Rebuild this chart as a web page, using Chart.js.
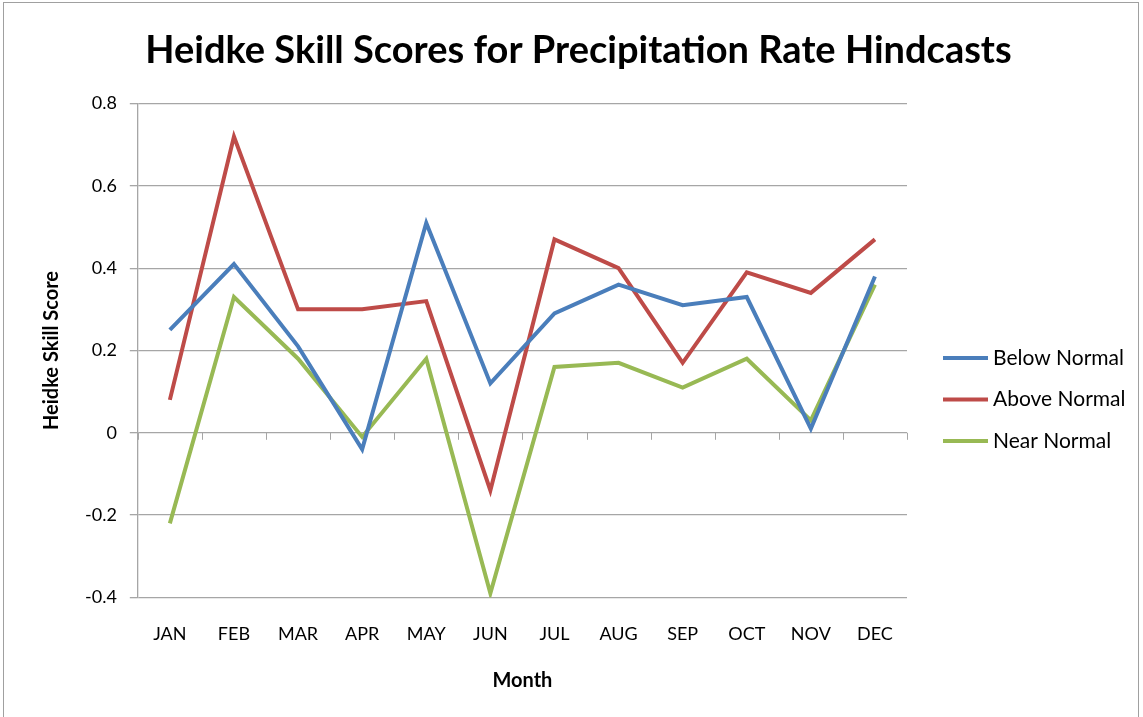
<!DOCTYPE html>
<html>
<head>
<meta charset="utf-8">
<title>Heidke Skill Scores</title>
<script src="https://cdn.jsdelivr.net/npm/chart.js@4"></script>
<style>
    html, body { margin: 0; padding: 0; background: #fff; }
    .frame {
        position: absolute; left: 3px; top: 2px;
        width: 1136px; height: 716px;
        border: 1px solid #a0a0a0; border-bottom: none;
        box-sizing: border-box;
    }
    .wrap { position: absolute; left: 0; top: 0; width: 1143px; height: 717px; }
</style>
</head>
<body>
<div class="frame"></div>
<div class="wrap"><canvas id="hssChart"></canvas></div>
<script>
// ─── data ───
const months = ['JAN', 'FEB', 'MAR', 'APR', 'MAY', 'JUN', 'JUL', 'AUG', 'SEP', 'OCT', 'NOV', 'DEC'];
const belowNormal = [0.25, 0.41, 0.21, -0.04, 0.51, 0.12, 0.29, 0.36, 0.31, 0.33, 0.01, 0.38];
const aboveNormal = [0.08, 0.72, 0.30, 0.30, 0.32, -0.14, 0.47, 0.40, 0.17, 0.39, 0.34, 0.47];
const nearNormal = [-0.22, 0.33, 0.18, -0.01, 0.18, -0.39, 0.16, 0.17, 0.11, 0.18, 0.03, 0.36];
const yTicks = [-0.4, -0.2, 0, 0.2, 0.4, 0.6, 0.8];

const FONT = 'Lato, "Open Sans", sans-serif';

// tick marks along the zero line, at category boundaries (Excel style)
const zeroTicks = {
    id: 'zeroTicks',
    beforeDatasetsDraw(chart) {
        const { ctx, scales: { x, y } } = chart;
        const y0 = y.getPixelForValue(0);
        ctx.save();
        ctx.strokeStyle = '#a6a6a6';
        ctx.lineWidth = 1;
        ctx.beginPath();
        for (let i = 0; i <= months.length; i++) {
            const px = Math.round(x.getPixelForValue(i - 0.5)) + 0.5;
            ctx.moveTo(px, y0);
            ctx.lineTo(px, y0 + 7);
        }
        ctx.stroke();
        ctx.restore();
    }
};

// legend on the right, a bit below the middle like the Excel original
const sideLegend = {
    id: 'sideLegend',
    afterDraw(chart) {
        const { ctx, chartArea } = chart;
        const x0 = chartArea.right + 36;
        const mid = (chartArea.top + chartArea.bottom) / 2 + 49;
        const step = 41.5;
        const sets = chart.data.datasets;
        ctx.save();
        ctx.font = `21px ${FONT}`;
        ctx.textBaseline = 'middle';
        ctx.fillStyle = '#000';
        sets.forEach((d, i) => {
            const yy = mid + (i - (sets.length - 1) / 2) * step;
            ctx.strokeStyle = d.borderColor;
            ctx.lineWidth = 4;
            ctx.beginPath();
            ctx.moveTo(x0, yy);
            ctx.lineTo(x0 + 45, yy);
            ctx.stroke();
            ctx.fillText(d.label, x0 + 50, yy);
        });
        ctx.restore();
    }
};

const ds = (label, data, color) => ({
    label, data,
    borderColor: color,
    backgroundColor: color,
    borderWidth: 4,
    pointRadius: 0,
    tension: 0,
    fill: false
});

new Chart(document.getElementById('hssChart'), {
    type: 'line',
    data: {
        labels: months,
        datasets: [
            ds('Below Normal', belowNormal, '#4a7ebb'),
            ds('Above Normal', aboveNormal, '#be4b48'),
            ds('Near Normal', nearNormal, '#98b954')
        ]
    },
    options: {
        responsive: true,
        maintainAspectRatio: false,
        animation: false,
        layout: { padding: { left: 22, right: 8, top: 20, bottom: 20 } },
        scales: {
            x: {
                offset: true,
                grid: { display: false },
                border: { display: false },
                ticks: { color: '#000', font: { family: FONT, size: 18 }, padding: 18 },
                title: {
                    display: true, text: 'Month', color: '#000',
                    font: { family: FONT, size: 20, weight: 'bold' }, padding: { top: 6 }
                }
            },
            y: {
                min: -0.4,
                max: 0.8,
                afterBuildTicks: axis => { axis.ticks = yTicks.map(v => ({ value: v })); },
                grid: { color: '#a6a6a6', lineWidth: 1.3, tickLength: 8 },
                border: { display: true, color: '#a6a6a6', width: 1.3 },
                ticks: {
                    color: '#000', font: { family: FONT, size: 18 }, padding: 13,
                    callback: v => String(Math.round(v * 10) / 10)
                },
                title: {
                    display: true, text: 'Heidke Skill Score', color: '#000',
                    font: { family: FONT, size: 20, weight: 'bold' }, padding: { top: 18, bottom: 8 }
                }
            },
            // empty band on the right that holds the legend
            gap: {
                type: 'linear',
                position: 'right',
                grid: { display: false },
                border: { display: false },
                ticks: { display: false },
                afterFit: s => { s.width = 228; }
            }
        },
        plugins: {
            title: {
                display: true,
                text: 'Heidke Skill Scores for Precipitation Rate Hindcasts',
                color: '#000',
                font: { family: FONT, size: 38, weight: 'bold' },
                padding: { top: 8, bottom: 30 }
            },
            legend: { display: false },
            tooltip: { enabled: false }
        }
    },
    plugins: [zeroTicks, sideLegend]
});
</script>
</body>
</html>
